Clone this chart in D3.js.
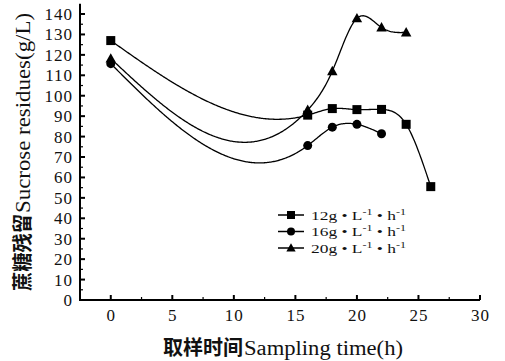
<!doctype html>
<html>
<head>
<meta charset="utf-8">
<script src="https://cdn.jsdelivr.net/npm/d3@7"></script>
<style>
  body { margin: 0; background: white; }
  .tick-label { font-family: "Liberation Serif", serif; font-size: 17px; fill: #111; letter-spacing: 1px; }
  .title { font-size: 20px; fill: #111; }
  .cjk { font-family: "Noto Sans CJK SC", sans-serif; font-weight: bold; }
  .latin { font-family: "Liberation Serif", serif; }
  .legend-text { font-family: "Liberation Serif", serif; font-size: 13px; fill: #111; }
  .curve { fill: none; stroke: #000; stroke-width: 1.3px; }
</style>
</head>
<body>
<script>
    // values
    const seriesNames = ["12g", "16g", "20g"];
    const seriesShapes = ["square", "circle", "triangle"];
    const time12 = [0, 16, 18, 20, 22, 24, 26];
    const sucrose12 = [127, 90.5, 93.7, 93.2, 93.3, 86, 55.5];
    const time16 = [0, 16, 18, 20, 22];
    const sucrose16 = [115.7, 75.6, 84.6, 86, 81.4];
    const time20 = [0, 16, 18, 20, 22, 24];
    const sucrose20 = [118.2, 93, 112, 137.9, 133.4, 131];
    const xTicks = [0, 5, 10, 15, 20, 25, 30];
    const yTicks = d3.range(0, 141, 10);

    const width = 505, height = 361;
    const svg = d3.select("body").append("svg")
        .attr("width", width)
        .attr("height", height);

    const x = d3.scaleLinear().domain([-2.5, 30]).range([80, 480]);
    const y = d3.scaleLinear().domain([0, 145]).range([300, 3.8]);

    // natural cubic spline y(x), sampled for drawing
    function naturalSpline(xs, ys) {
        const n = xs.length;
        const h = [], alpha = [0];
        for (let i = 0; i < n - 1; ++i) h[i] = xs[i + 1] - xs[i];
        for (let i = 1; i < n - 1; ++i)
            alpha[i] = 3 / h[i] * (ys[i + 1] - ys[i]) - 3 / h[i - 1] * (ys[i] - ys[i - 1]);
        const l = [1], mu = [0], z = [0];
        for (let i = 1; i < n - 1; ++i) {
            l[i] = 2 * (xs[i + 1] - xs[i - 1]) - h[i - 1] * mu[i - 1];
            mu[i] = h[i] / l[i];
            z[i] = (alpha[i] - h[i - 1] * z[i - 1]) / l[i];
        }
        const c = Array(n).fill(0), b = [], d = [];
        for (let j = n - 2; j >= 0; --j) {
            c[j] = z[j] - mu[j] * c[j + 1];
            b[j] = (ys[j + 1] - ys[j]) / h[j] - h[j] * (c[j + 1] + 2 * c[j]) / 3;
            d[j] = (c[j + 1] - c[j]) / (3 * h[j]);
        }
        const pts = [];
        for (let j = 0; j < n - 1; ++j) {
            const steps = Math.max(8, Math.round(h[j] * 12));
            for (let s = 0; s < steps; ++s) {
                const t = h[j] * s / steps;
                pts.push([xs[j] + t, ys[j] + b[j] * t + c[j] * t * t + d[j] * t * t * t]);
            }
        }
        pts.push([xs[n - 1], ys[n - 1]]);
        return pts;
    }

    const series = [
        {name: seriesNames[0], shape: seriesShapes[0], xs: time12, ys: sucrose12},
        {name: seriesNames[1], shape: seriesShapes[1], xs: time16, ys: sucrose16},
        {name: seriesNames[2], shape: seriesShapes[2], xs: time20, ys: sucrose20}
    ];

    const line = d3.line().x(d => x(d[0])).y(d => y(d[1]));

    function marker(g, shape, cx, cy, s) {
        if (shape === "square")
            g.append("rect").attr("x", cx - s / 2).attr("y", cy - s / 2)
                .attr("width", s).attr("height", s).attr("fill", "#000");
        else if (shape === "circle")
            g.append("circle").attr("cx", cx).attr("cy", cy).attr("r", s / 2).attr("fill", "#000");
        else
            g.append("path")
                .attr("d", `M${cx} ${cy - s * 0.6} L${cx + s * 0.58} ${cy + s * 0.45} L${cx - s * 0.58} ${cy + s * 0.45} Z`)
                .attr("fill", "#000");
    }

    series.forEach(sr => {
        svg.append("path")
            .attr("class", "curve")
            .attr("d", line(naturalSpline(sr.xs, sr.ys)));
        const g = svg.append("g");
        sr.xs.forEach((t, i) => marker(g, sr.shape, x(t), y(sr.ys[i]), 9));
    });

    // axes
    const axis = svg.append("g").attr("stroke", "#000");
    axis.append("line").attr("x1", x(-2.5)).attr("x2", x(-2.5))
        .attr("y1", y(145)).attr("y2", y(0) + 1).attr("stroke-width", 2);
    axis.append("line").attr("x1", x(-2.5) - 1).attr("x2", x(30))
        .attr("y1", y(0)).attr("y2", y(0)).attr("stroke-width", 2);

    d3.range(5, 145, 5).forEach(v => {
        const major = v % 10 === 0;
        axis.append("line").attr("x1", x(-2.5)).attr("x2", x(-2.5) + (major ? 5 : 3))
            .attr("y1", y(v)).attr("y2", y(v)).attr("stroke-width", major ? 2 : 1.2);
    });
    d3.range(0, 30.1, 2.5).forEach(v => {
        const major = v % 5 === 0;
        axis.append("line").attr("x1", x(v)).attr("x2", x(v))
            .attr("y1", y(0)).attr("y2", y(0) - (major ? 5 : 3)).attr("stroke-width", major ? 2 : 1.2);
    });

    svg.append("g").selectAll("text").data(yTicks).join("text")
        .attr("class", "tick-label")
        .attr("x", 73).attr("y", d => y(d)).attr("dy", "0.35em")
        .attr("text-anchor", "end")
        .text(d => d);
    svg.append("g").selectAll("text").data(xTicks).join("text")
        .attr("class", "tick-label")
        .attr("x", d => x(d) + 0.5).attr("y", 321)
        .attr("text-anchor", "middle")
        .text(d => d);

    // titles: Chinese part and Latin part in separate runs
    function title(g, zh, en, zhLen, enLen) {
        g.append("text").attr("class", "title cjk")
            .attr("x", 0).attr("y", 0)
            .attr("textLength", zhLen).attr("lengthAdjust", "spacingAndGlyphs")
            .text(zh);
        g.append("text").attr("class", "title latin")
            .attr("x", zhLen + 1).attr("y", 0)
            .attr("textLength", enLen).attr("lengthAdjust", "spacingAndGlyphs")
            .text(en);
    }
    title(svg.append("g").attr("transform", "translate(163,355)"),
        "取样时间", "Sampling time(h)", 80, 159);
    title(svg.append("g").attr("transform", "translate(30,291) rotate(-90)"),
        "蔗糖残留", "Sucrose residues(g/L)", 77, 200);

    // legend
    const legend = svg.append("g");
    series.forEach((sr, i) => {
        const ly = 215 + i * 16.5;
        legend.append("line").attr("x1", 278).attr("x2", 304)
            .attr("y1", ly).attr("y2", ly).attr("stroke", "#000").attr("stroke-width", 1.5);
        marker(legend, sr.shape, 291, ly, 8);
        const t = legend.append("text").attr("class", "legend-text")
            .attr("x", 311).attr("y", ly + 4.5)
            .attr("textLength", 95).attr("lengthAdjust", "spacingAndGlyphs");
        t.append("tspan").text(sr.name + " • L");
        t.append("tspan").attr("dy", -5).attr("font-size", 9).text("-1");
        t.append("tspan").attr("dy", 5).text(" • h");
        t.append("tspan").attr("dy", -5).attr("font-size", 9).text("-1");
    });
</script>
</body>
</html>
